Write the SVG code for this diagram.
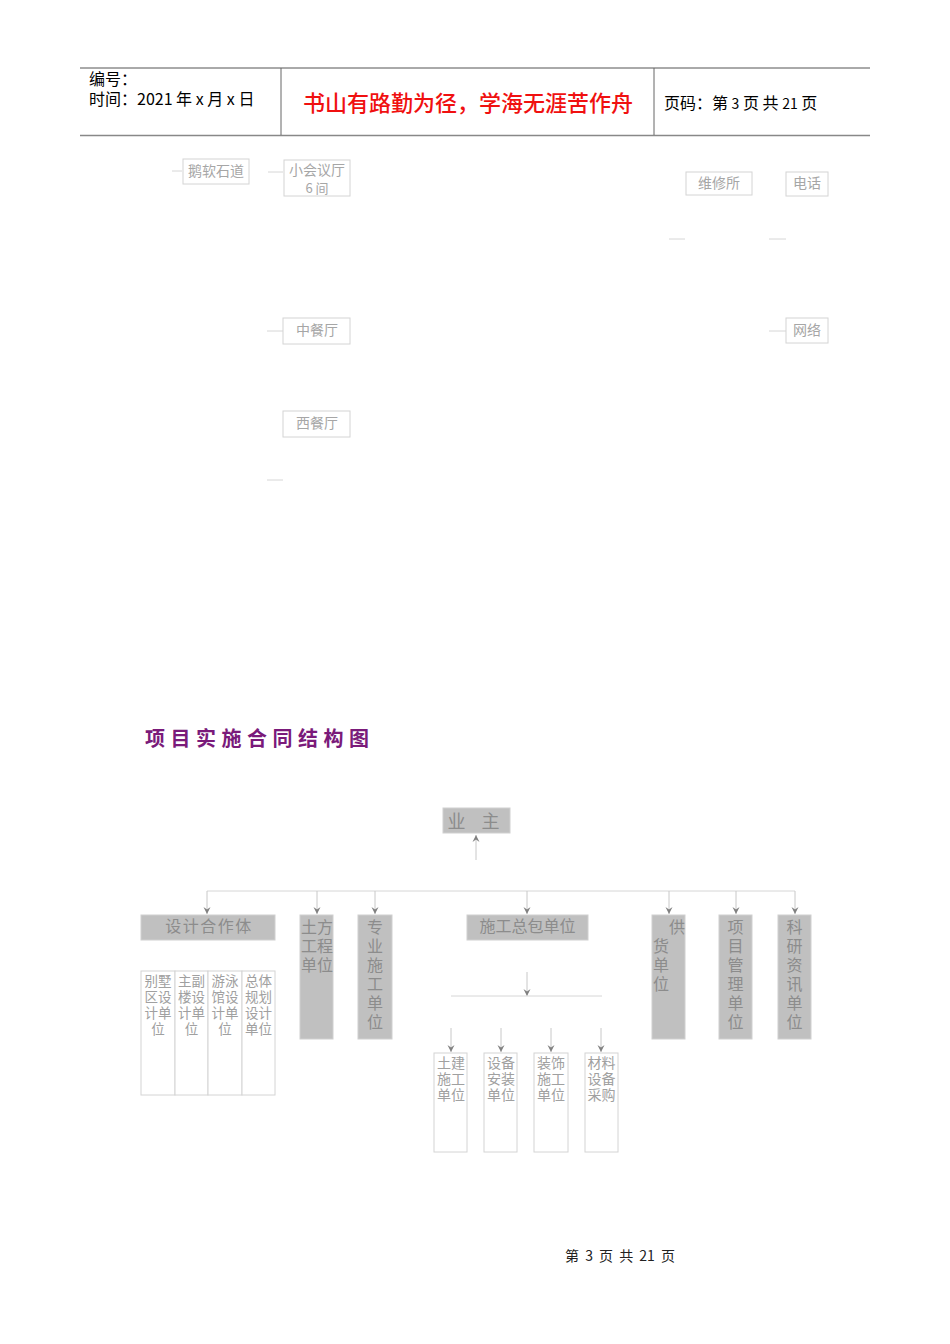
<svg xmlns="http://www.w3.org/2000/svg" width="950" height="1344" viewBox="0 0 950 1344">
<style>
text{font-family:"Noto Sans CJK SC","Liberation Sans",sans-serif}
.hd{font-size:16px;fill:#000}
.lb{fill:#fff;stroke:#d4d4d4;stroke-width:1}
.lt{font-size:14px;fill:#a6a6a6}
.gb{fill:#c0c0c0;stroke:#d0d0d0;stroke-width:1}
.gt{font-size:16px;fill:#8c8c8c}
.st{font-size:14px;fill:#a0a0a0}
.cn{stroke:#d6d6d6;stroke-width:1;fill:none}
.ca{stroke:#c8c8c8;stroke-width:1;fill:none;marker-end:url(#ah)}
</style>
<defs>
<marker id="ah" markerWidth="9" markerHeight="9" refX="8" refY="4.5" orient="auto" markerUnits="userSpaceOnUse" viewBox="0 0 9 9">
<path d="M1,1 L8,4.5 L1,8 L3.5,4.5 Z" fill="#808080"/>
</marker>
</defs>

<g id="header">
<line x1="80" y1="68" x2="870" y2="68" stroke="#555" stroke-width="1"/>
<line x1="80" y1="135.5" x2="870" y2="135.5" stroke="#888" stroke-width="1.5"/>
<line x1="281" y1="68" x2="281" y2="135" stroke="#666" stroke-width="1"/>
<line x1="654" y1="68" x2="654" y2="135" stroke="#666" stroke-width="1"/>
<text class="hd" x="89" y="85">编号：</text>
<text class="hd" x="89" y="105">时间：2021 年 x 月 x 日</text>
<text x="468" y="111" text-anchor="middle" style="font-size:22px;fill:#f01010;font-weight:500">书山有路勤为径，学海无涯苦作舟</text>
<text class="hd" x="664" y="109">页码：第 <tspan style="font-size:14px">3</tspan> 页  共 <tspan style="font-size:14px">21</tspan> 页</text>
</g>

<g id="top-connectors">
<line class="cn" x1="172" y1="171" x2="182" y2="171"/>
<line class="cn" x1="268" y1="172" x2="283" y2="172"/>
<line class="cn" x1="669" y1="239" x2="685" y2="239"/>
<line class="cn" x1="769" y1="239" x2="786" y2="239"/>
<line class="cn" x1="267" y1="331" x2="283" y2="331"/>
<line class="cn" x1="769" y1="331" x2="786" y2="331"/>
<line class="cn" x1="267" y1="480" x2="283" y2="480"/>
</g>

<g id="n-eruanshidao"><rect class="lb" x="183" y="159" width="66" height="25"/><text class="lt" x="216" y="176" text-anchor="middle">鹅软石道</text></g>
<g id="n-xiaohuiyiting"><rect class="lb" x="284" y="160" width="66" height="36"/><text class="lt" text-anchor="middle"><tspan x="317" y="175">小会议厅</tspan><tspan x="317" y="193" style="font-size:13px">6 间</tspan></text></g>
<g id="n-weixiusuo"><rect class="lb" x="686" y="172" width="66" height="23"/><text class="lt" x="719" y="188" text-anchor="middle">维修所</text></g>
<g id="n-dianhua"><rect class="lb" x="786" y="172" width="42" height="24"/><text class="lt" x="807" y="188" text-anchor="middle">电话</text></g>
<g id="n-zhongcanting"><rect class="lb" x="283" y="318" width="67" height="26"/><text class="lt" x="317" y="335" text-anchor="middle">中餐厅</text></g>
<g id="n-wangluo"><rect class="lb" x="786" y="318" width="42" height="25"/><text class="lt" x="807" y="335" text-anchor="middle">网络</text></g>
<g id="n-xicanting"><rect class="lb" x="283" y="411" width="67" height="26"/><text class="lt" x="317" y="428" text-anchor="middle">西餐厅</text></g>

<text x="145" y="746" style="font-size:20px;fill:#7a1a7a;font-weight:bold;letter-spacing:5.5px">项目实施合同结构图</text>

<g id="connectors">
<line class="ca" x1="476" y1="860" x2="476" y2="835"/>
<line class="cn" x1="207" y1="891" x2="795" y2="891"/>
<line class="ca" x1="207" y1="891" x2="207" y2="914"/>
<line class="ca" x1="317" y1="891" x2="317" y2="914"/>
<line class="ca" x1="375" y1="891" x2="375" y2="914"/>
<line class="ca" x1="527" y1="891" x2="527" y2="914"/>
<line class="ca" x1="669" y1="891" x2="669" y2="914"/>
<line class="ca" x1="736" y1="891" x2="736" y2="914"/>
<line class="ca" x1="795" y1="891" x2="795" y2="914"/>
<line class="ca" x1="527" y1="972" x2="527" y2="996"/>
<line class="cn" x1="451" y1="996" x2="602" y2="996"/>
<line class="ca" x1="451" y1="1028" x2="451" y2="1052"/>
<line class="ca" x1="501" y1="1028" x2="501" y2="1052"/>
<line class="ca" x1="551" y1="1028" x2="551" y2="1052"/>
<line class="ca" x1="601" y1="1028" x2="601" y2="1052"/>
</g>

<g id="n-yezhu"><rect class="gb" x="443" y="808" width="67" height="25"/><text x="476.5" y="828" text-anchor="middle" style="font-size:18px;fill:#8c8c8c;letter-spacing:6px">业 主</text></g>

<g id="n-sheji"><rect class="gb" x="141" y="915" width="134" height="25"/><text class="gt" x="209" y="932" text-anchor="middle" style="letter-spacing:1.5px">设计合作体</text></g>
<g id="n-sheji-subs">
<rect class="lb" x="141" y="971" width="34" height="124"/>
<rect class="lb" x="175" y="971" width="33" height="124"/>
<rect class="lb" x="208" y="971" width="34" height="124"/>
<rect class="lb" x="242" y="971" width="33" height="124"/>
<text class="st" text-anchor="middle" style="font-size:13.5px"><tspan x="158" y="986">别墅</tspan><tspan x="158" y="1002">区设</tspan><tspan x="158" y="1018">计单</tspan><tspan x="158" y="1034">位</tspan></text>
<text class="st" text-anchor="middle" style="font-size:13.5px"><tspan x="191.5" y="986">主副</tspan><tspan x="191.5" y="1002">楼设</tspan><tspan x="191.5" y="1018">计单</tspan><tspan x="191.5" y="1034">位</tspan></text>
<text class="st" text-anchor="middle" style="font-size:13.5px"><tspan x="225" y="986">游泳</tspan><tspan x="225" y="1002">馆设</tspan><tspan x="225" y="1018">计单</tspan><tspan x="225" y="1034">位</tspan></text>
<text class="st" text-anchor="middle" style="font-size:13.5px"><tspan x="258.5" y="986">总体</tspan><tspan x="258.5" y="1002">规划</tspan><tspan x="258.5" y="1018">设计</tspan><tspan x="258.5" y="1034">单位</tspan></text>
</g>

<g id="n-tufang"><rect class="gb" x="300" y="915" width="33" height="124"/>
<text class="gt"><tspan x="301" y="933">土方</tspan><tspan x="301" y="952">工程</tspan><tspan x="301" y="971">单位</tspan></text></g>

<g id="n-zhuanye"><rect class="gb" x="358" y="915" width="34" height="124"/>
<text class="gt" text-anchor="middle"><tspan x="375" y="933">专</tspan><tspan x="375" y="952">业</tspan><tspan x="375" y="971">施</tspan><tspan x="375" y="990">工</tspan><tspan x="375" y="1009">单</tspan><tspan x="375" y="1028">位</tspan></text></g>

<g id="n-zongbao"><rect class="gb" x="467" y="915" width="121" height="25"/><text class="gt" x="527.5" y="932" text-anchor="middle">施工总包单位</text></g>

<g id="n-zongbao-subs">
<rect class="lb" x="434" y="1053" width="33" height="99"/>
<rect class="lb" x="484" y="1053" width="33" height="99"/>
<rect class="lb" x="534" y="1053" width="34" height="99"/>
<rect class="lb" x="585" y="1053" width="33" height="99"/>
<text class="st" text-anchor="middle"><tspan x="451" y="1068">土建</tspan><tspan x="451" y="1084">施工</tspan><tspan x="451" y="1100">单位</tspan></text>
<text class="st" text-anchor="middle"><tspan x="501" y="1068">设备</tspan><tspan x="501" y="1084">安装</tspan><tspan x="501" y="1100">单位</tspan></text>
<text class="st" text-anchor="middle"><tspan x="551" y="1068">装饰</tspan><tspan x="551" y="1084">施工</tspan><tspan x="551" y="1100">单位</tspan></text>
<text class="st" text-anchor="middle"><tspan x="601.5" y="1068">材料</tspan><tspan x="601.5" y="1084">设备</tspan><tspan x="601.5" y="1100">采购</tspan></text>
</g>

<g id="n-gonghuo"><rect class="gb" x="652" y="915" width="33" height="124"/>
<text class="gt"><tspan x="669" y="933">供</tspan><tspan x="653" y="952">货</tspan><tspan x="653" y="971">单</tspan><tspan x="653" y="990">位</tspan></text></g>

<g id="n-xiangmu"><rect class="gb" x="719" y="915" width="33" height="124"/>
<text class="gt" text-anchor="middle"><tspan x="735.5" y="933">项</tspan><tspan x="735.5" y="952">目</tspan><tspan x="735.5" y="971">管</tspan><tspan x="735.5" y="990">理</tspan><tspan x="735.5" y="1009">单</tspan><tspan x="735.5" y="1028">位</tspan></text></g>

<g id="n-keyan"><rect class="gb" x="778" y="915" width="33" height="124"/>
<text class="gt" text-anchor="middle"><tspan x="794.5" y="933">科</tspan><tspan x="794.5" y="952">研</tspan><tspan x="794.5" y="971">资</tspan><tspan x="794.5" y="990">讯</tspan><tspan x="794.5" y="1009">单</tspan><tspan x="794.5" y="1028">位</tspan></text></g>

<text x="620" y="1261" text-anchor="middle" style="font-size:14px;fill:#222;word-spacing:3px">第 3 页 共 21 页</text>
</svg>
